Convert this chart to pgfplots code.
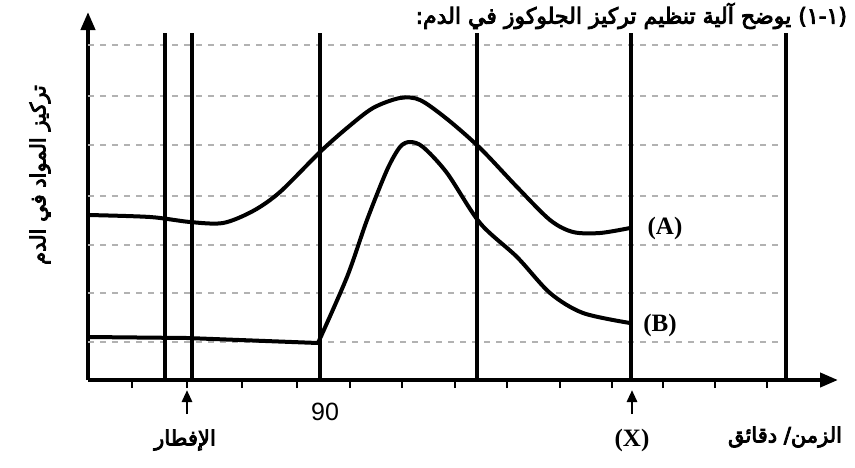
\documentclass[border=0pt]{standalone}
\usepackage{pgfplots}
\pgfplotsset{compat=1.18}
\usepackage{fontspec}
\setmainfont{Liberation Serif}
\newfontfamily\sansnum{Liberation Sans}
\newfontfamily\arabicfont[Script=Arabic,FakeBold=4]{DejaVu Sans}
\TeXXeTstate=1
\usetikzlibrary{arrows.meta}

\begin{document}
\begin{tikzpicture}
\begin{axis}[
  x=0.5pt, y=0.5pt,
  xmin=0, xmax=750, ymin=0, ymax=368,
  axis lines=left,
  axis line style={line width=2pt, -{Triangle[length=9pt,width=7pt]}},
  xtick={44,99,154,209,262,314,367,419,472,524,575,627,679},
  xticklabels={},
  ytick=\empty,
  tick align=outside,
  major tick length=4pt,
  tick style={line width=1.2pt, black},
  clip=false,
]
% dashed guide lines
\pgfplotsinvokeforeach{38,87,135,184,235,284,335}{
  \draw[black!30, dashed, line width=0.7pt] (axis cs:0,#1) -- (axis cs:698,#1);
}
% vertical lines
\pgfplotsinvokeforeach{77,104,232,389,543,698}{
  \draw[line width=1.7pt] (axis cs:#1,0) -- (axis cs:#1,347);
}

% curve A
\addplot[black, mark=none, line width=2pt, smooth, tension=0.5] coordinates {
  (0,165) (62,163) (102,158) (135,157) (165,169) (192,188) (232,228)
  (259,252) (285,272) (312,282) (332,280) (359,261) (392,232) (429,193)
  (462,160) (485,148) (512,147) (542,152)
};
% curve B
\addplot[black, mark=none, line width=2pt] coordinates {
  (0,43) (99,42) (230,37)
};
\addplot[black, mark=none, line width=2pt, smooth, tension=0.5] coordinates {
  (230,37) (259,103) (279,160) (299,210) (312,233) (322,238) (335,233)
  (359,207) (392,157) (429,123) (462,87) (495,67) (542,57)
};

% arrows under the axis
\draw[line width=1.4pt, -{Triangle[length=6pt,width=5pt]}] (axis cs:99,-34) -- (axis cs:99,-10);
\draw[line width=1.4pt, -{Triangle[length=6pt,width=5pt]}] (axis cs:544,-34) -- (axis cs:544,-10);

% labels
\node at (axis cs:577,152) {\fontsize{12.5}{14}\selectfont\bfseries (A)};
\node at (axis cs:572,55) {\fontsize{12.5}{14}\selectfont\bfseries (B)};
\node at (axis cs:544,-60) {\fontsize{12.5}{14}\selectfont\bfseries (X)};
\node at (axis cs:237,-32) {\sansnum\fontsize{12.5}{14}\selectfont 90};
\node at (axis cs:97,-60) {\arabicfont\fontsize{10.5}{12}\selectfont\beginR الإفطار\endR};
\node at (axis cs:697,-57) {\arabicfont\fontsize{10.5}{12}\selectfont\beginR الزمن/ دقائق\endR};
\node[rotate=90] at (axis cs:-48,205) {\arabicfont\fontsize{10.5}{12}\selectfont\beginR تركيز المواد في الدم\endR};
\node[anchor=east] at (axis cs:766,364) {\arabicfont\fontsize{11}{12}\selectfont\beginR (١-١) يوضح آلية تنظيم تركيز الجلوكوز في الدم:\endR};

\coordinate (bl) at (axis cs:-88,-87);
\coordinate (tr) at (axis cs:767,380);
\end{axis}
\pgfresetboundingbox
\useasboundingbox (bl) rectangle (tr);
\end{tikzpicture}
\end{document}
